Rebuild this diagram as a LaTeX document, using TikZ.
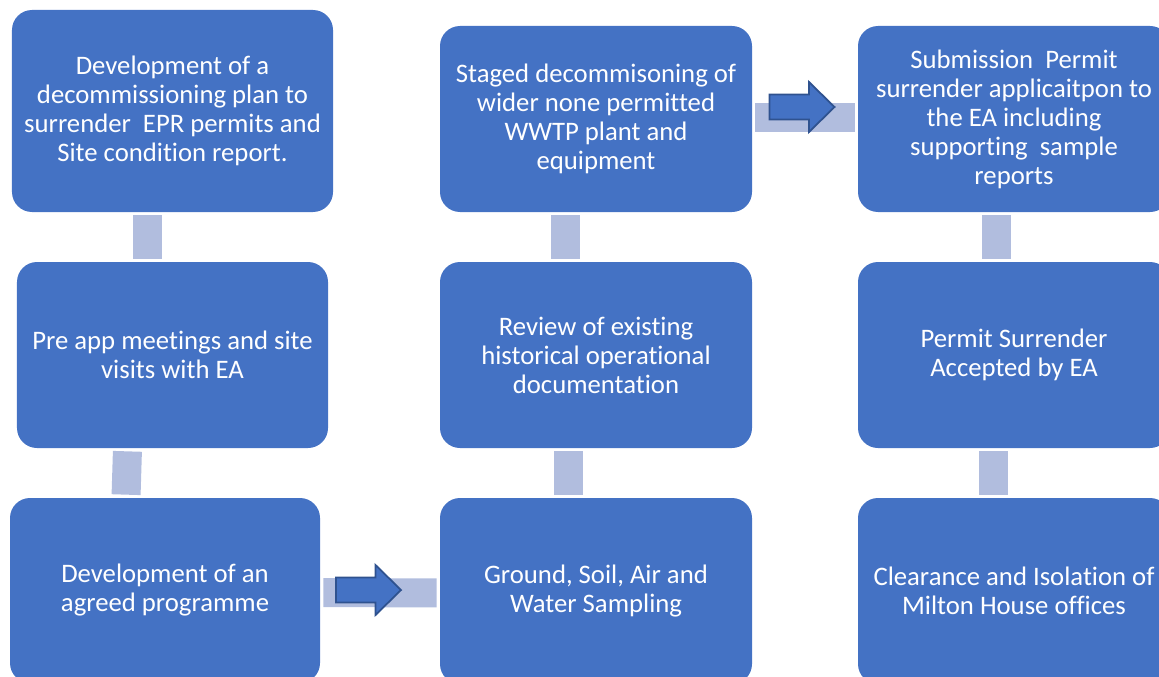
\documentclass[tikz,border=0pt]{standalone}
\usepackage{fontspec}
\setmainfont[RawFeature={-liga;-clig;-calt}]{Carlito}
\usetikzlibrary{calc}
\definecolor{boxc}{RGB}{68,114,196}
\definecolor{linkc}{RGB}{177,189,222}
\definecolor{arrc}{RGB}{47,82,143}
\tikzstyle{box}=[rectangle,rounded corners=0.4cm,fill=boxc,text=white,align=center,inner sep=0pt,
  font=\fontsize{15.2}{16.5}\selectfont,minimum width=6.22cm,minimum height=3.72cm]
\tikzstyle{link}=[draw=linkc,line width=0.58cm,shorten <=0.06cm,shorten >=0.06cm]
\tikzstyle{arr}=[fill=boxc,draw=arrc,line width=1pt,line join=miter]
\newcommand{\drawlinks}[1]{
	\foreach \a/\sa/\b/\sb in {#1}{
		\draw[link] ([xshift=\sa cm]\a.south) -- ([xshift=\sb cm]\b.north);
	}
}
\newcommand{\blockarrow}[1]{
	\draw[arr,shift={(#1)}] (-0.65,0.25) -- (0.14,0.25) -- (0.14,0.5) -- (0.65,0)
		-- (0.14,-0.5) -- (0.14,-0.25) -- (-0.65,-0.25) -- cycle;
}

\begin{document}
\begin{tikzpicture}

\useasboundingbox (0,0) rectangle (23.18,-13.54);
\clip (0,0) rectangle (23.18,-13.54);

% first column
\node[box,minimum width=6.42cm,minimum height=4.04cm] (s1) at (3.45,-2.22)
	{Development of a\\decommissioning plan to\\surrender~ EPR permits and\\Site condition report.};
\node[box] (s2) at (3.45,-7.10) {Pre app meetings and site\\visits with EA};
\node[box,minimum width=6.2cm,minimum height=3.7cm] (s3) at (3.30,-11.81)
	{Development of an\\agreed programme};

% second column
\node[box,minimum width=6.24cm] (s4) at (11.92,-11.82) {Ground, Soil, Air and\\Water Sampling};
\node[box,minimum width=6.24cm] (s5) at (11.92,-7.10)
	{Review of existing\\historical operational\\documentation};
\node[box,minimum width=6.24cm] (s6) at (11.92,-2.38)
	{Staged decommisoning of\\wider none permitted\\WWTP plant and\\equipment};

% third column
\node[box,minimum width=6.24cm] (s7) at (20.28,-2.38)
	{Submission~ Permit\\surrender applicaitpon to\\the EA including\\supporting~ sample\\reports};
\node[box,minimum width=6.24cm] (s8) at (20.28,-7.10) {Permit Surrender\\Accepted by EA};
\node[box,minimum width=6.24cm] (s9) at (20.28,-11.82)
	{Clearance and Isolation of\\Milton House offices};

\drawlinks{s1/-0.5/s2/-0.5,s2/-0.9/s3/-0.78,s6/-0.61/s5/-0.61,s5/-0.55/s4/-0.55,
	s7/-0.35/s8/-0.35,s8/-0.41/s9/-0.41}
\draw[link] ([yshift=-0.04cm]s3.east) -- ([yshift=-0.04cm]s4.west);
\draw[link] ([yshift=0.03cm]s6.east) -- ([yshift=0.03cm]s7.west);

\coordinate (a1) at (7.37,-11.80);
\coordinate (a2) at (16.04,-2.14);
\blockarrow{a1}
\blockarrow{a2}

\end{tikzpicture}
\end{document}
